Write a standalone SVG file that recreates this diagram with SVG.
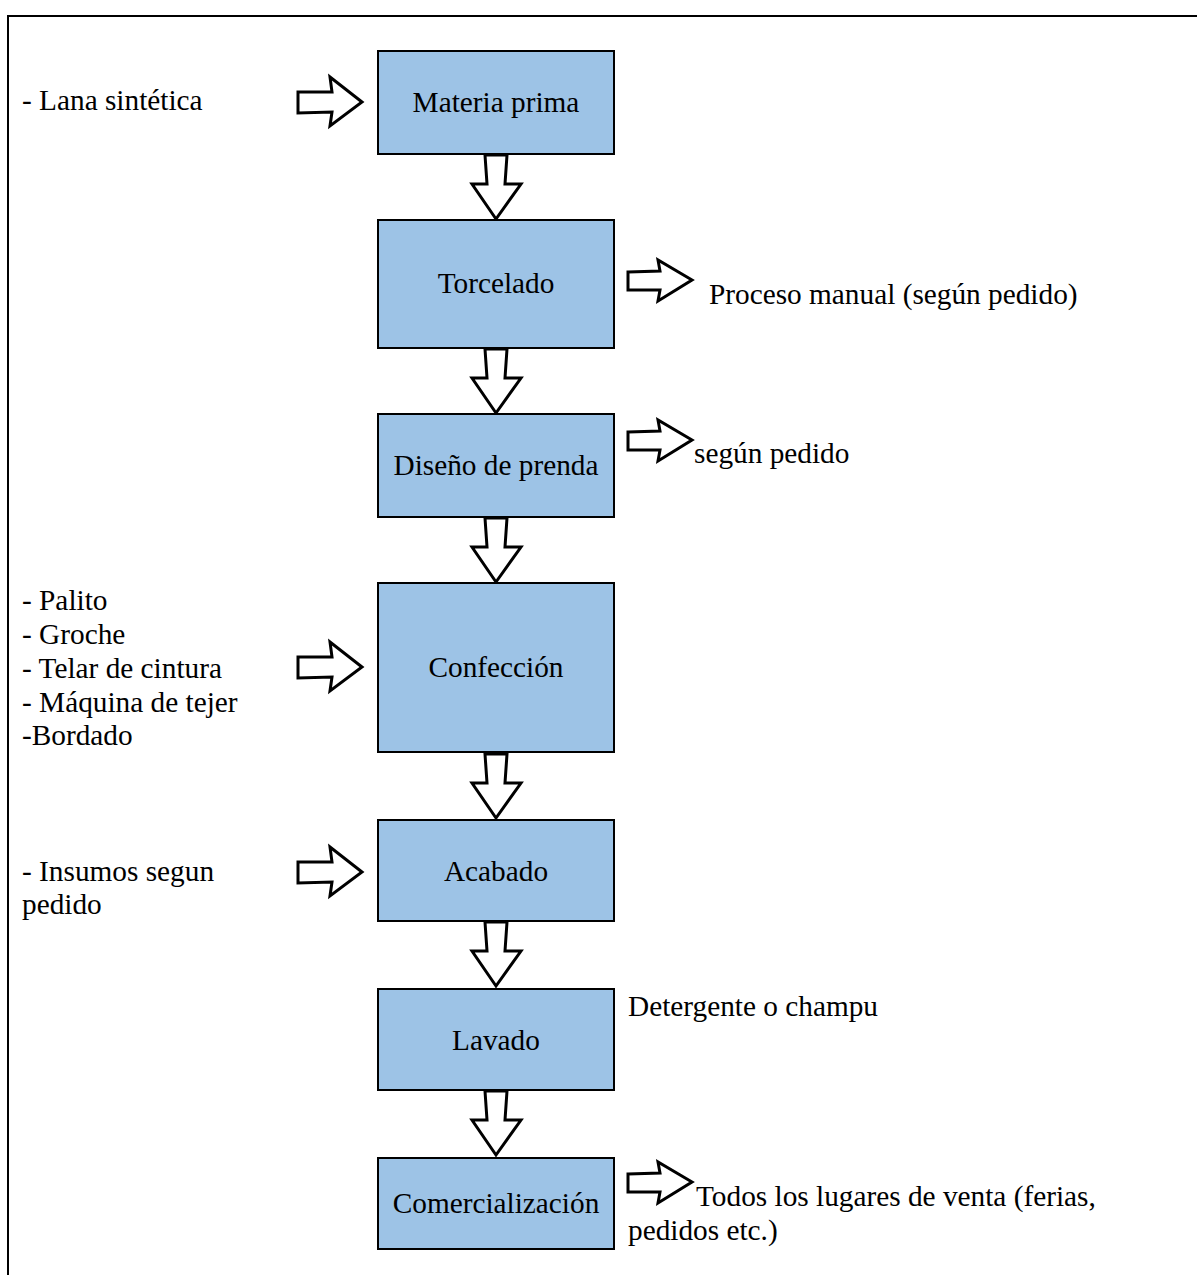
<svg xmlns="http://www.w3.org/2000/svg" width="1197" height="1275" viewBox="0 0 1197 1275">
<defs>
<style>
.box{fill:#9DC3E6;stroke:#000;stroke-width:2}
.t{font-family:"Liberation Serif","Times New Roman",serif;font-size:29.3px;fill:#000}
.c{text-anchor:middle}
.ar{fill:#fff;stroke:#000;stroke-width:3;stroke-linejoin:miter}
.frame{fill:none;stroke:#000;stroke-width:2}
</style>
<polygon id="down" class="ar" points="-11,1 11,1 9,30 25,30 0,65 -24,30 -9,30"/>
<polygon id="rightL" class="ar" points="0,-10 34,-10 32,-25 64,0 32,24 34,10 0,11"/>
<polygon id="rightR" class="ar" points="0,-8 32,-9 30,-20 64,0 30,21 32,10 0,10"/>
</defs>
<rect width="1197" height="1275" fill="#fff"/>
<path class="frame" d="M8,1275 V16 H1197"/>

<g id="connectors">
<use href="#down" x="496" y="154"/>
<use href="#down" x="496" y="348"/>
<use href="#down" x="496" y="517"/>
<use href="#down" x="496" y="753"/>
<use href="#down" x="496" y="921"/>
<use href="#down" x="496" y="1090"/>
<use href="#rightL" x="298" y="102"/>
<use href="#rightL" x="298" y="667"/>
<use href="#rightL" x="298" y="872"/>
<use href="#rightR" x="628" y="280"/>
<use href="#rightR" x="628" y="440"/>
<use href="#rightR" x="628" y="1182"/>
</g>

<g id="n1"><rect class="box" x="378" y="51" width="236" height="103"/><text class="t c" x="496" y="112">Materia prima</text></g>
<g id="n2"><rect class="box" x="378" y="220" width="236" height="128"/><text class="t c" x="496" y="293">Torcelado</text></g>
<g id="n3"><rect class="box" x="378" y="414" width="236" height="103"/><text class="t c" x="496" y="475">Diseño de prenda</text></g>
<g id="n4"><rect class="box" x="378" y="583" width="236" height="169"/><text class="t c" x="496" y="677">Confección</text></g>
<g id="n5"><rect class="box" x="378" y="820" width="236" height="101"/><text class="t c" x="496" y="881">Acabado</text></g>
<g id="n6"><rect class="box" x="378" y="989" width="236" height="101"/><text class="t c" x="496" y="1050">Lavado</text></g>
<g id="n7"><rect class="box" x="378" y="1158" width="236" height="91"/><text class="t c" x="496" y="1213">Comercialización</text></g>

<g id="labels">
<text class="t" x="22" y="110">- Lana sintética</text>
<text class="t" x="709" y="304">Proceso manual (según pedido)</text>
<text class="t" x="694" y="463">según pedido</text>
<text class="t" x="22" y="610">- Palito</text>
<text class="t" x="22" y="644">- Groche</text>
<text class="t" x="22" y="678">- Telar de cintura</text>
<text class="t" x="22" y="712">- Máquina de tejer</text>
<text class="t" x="22" y="745">-Bordado</text>
<text class="t" x="22" y="881">- Insumos segun</text>
<text class="t" x="22" y="914">pedido</text>
<text class="t" x="628" y="1016">Detergente o champu</text>
<text class="t" x="696" y="1206">Todos los lugares de venta (ferias,</text>
<text class="t" x="628" y="1240">pedidos etc.)</text>
</g>
</svg>
